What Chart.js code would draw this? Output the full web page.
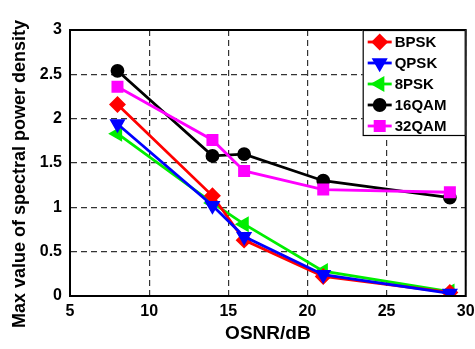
<!DOCTYPE html>
<html>
<head>
<meta charset="utf-8">
<script src="https://cdn.jsdelivr.net/npm/chart.js@4/dist/chart.umd.min.js"></script>
<style>
    html, body { margin: 0; padding: 0; background: #fff; }
    #wrap { width: 475px; height: 349px; }
</style>
</head>
<body>
<div id="wrap"><canvas id="chart" width="475" height="349"></canvas></div>
<script>
const osnr = [8, 14, 16, 21, 29];
const bpsk = [2.16, 1.13, 0.63, 0.22, 0.04];
const qpsk = [1.94, 1.02, 0.67, 0.24, 0.03];
const psk8 = [1.83, 1.05, 0.81, 0.28, 0.05];
const qam16 = [2.54, 1.58, 1.60, 1.30, 1.11];
const qam32 = [2.36, 1.76, 1.41, 1.20, 1.17];
const xTicks = [5, 10, 15, 20, 25, 30];
const yTicks = [0, 0.5, 1, 1.5, 2, 2.5, 3];
const yTitle = "Max value of spectral power density";

const FONT = "'Liberation Sans', Arial, sans-serif";

function series(label, values, color, style, rotation, radius) {
    return {
        label,
        data: osnr.map((x, i) => ({ x, y: values[i] })),
        borderColor: color,
        backgroundColor: color,
        pointBackgroundColor: color,
        pointBorderColor: color,
        pointStyle: style,
        rotation: rotation,
        pointRadius: radius,
        borderWidth: 2.8,
        tension: 0
    };
}

const datasets = [
    series("QPSK", qpsk, "#0000ff", "triangle", 180, 6.5),
    series("BPSK", bpsk, "#ff0000", "rectRot", 0, 6.5),
    series("8PSK", psk8, "#00ee00", "triangle", -90, 6.5),
    series("32QAM", qam32, "#ff00ff", "rect", 0, 6.5),
    series("16QAM", qam16, "#000000", "circle", 0, 5.5)
];
const legendOrder = ["BPSK", "QPSK", "8PSK", "16QAM", "32QAM"];

const boxLegend = {
    id: "boxLegend",
    afterDatasetsDraw(chart) {
        const ctx = chart.ctx;
        const area = chart.chartArea;
        const w = 103, h = 106;
        const x0 = area.right - w, y0 = area.top;
        ctx.save();
        ctx.fillStyle = "#fff";
        ctx.fillRect(x0, y0, w, h);
        ctx.strokeStyle = "#000";
        ctx.lineWidth = 1.2;
        ctx.strokeRect(x0 + 0.5, y0 + 0.5, w - 1, h - 1);
        ctx.font = `bold 15px ${FONT}`;
        ctx.textBaseline = "middle";
        legendOrder.forEach((name, i) => {
            const ds = chart.data.datasets.find(d => d.label === name);
            const y = y0 + 12 + i * 21;
            ctx.strokeStyle = ds.borderColor;
            ctx.lineWidth = 2.8;
            ctx.beginPath();
            ctx.moveTo(x0 + 5, y);
            ctx.lineTo(x0 + 29, y);
            ctx.stroke();
            ctx.fillStyle = ds.borderColor;
            Chart.helpers.drawPoint(ctx, {
                pointStyle: ds.pointStyle,
                rotation: ds.rotation,
                radius: ds.pointRadius,
                borderWidth: 1
            }, x0 + 17, y);
            ctx.fill();
            ctx.fillStyle = "#000";
            ctx.fillText(name, x0 + 32, y + 1);
        });
        ctx.restore();
    }
};

// y title drawn by hand so it can sit a bit below the axis centre, as in the source figure
const sideTitle = {
    id: "sideTitle",
    afterDraw(chart) {
        const ctx = chart.ctx;
        ctx.save();
        ctx.translate(20, 174);
        ctx.rotate(-Math.PI / 2);
        ctx.font = `bold 18px ${FONT}`;
        ctx.fillStyle = "#000";
        ctx.textAlign = "center";
        ctx.textBaseline = "middle";
        ctx.fillText(yTitle, 0, 0);
        ctx.restore();
    }
};

new Chart(document.getElementById("chart"), {
    type: "line",
    data: { datasets },
    options: {
        responsive: false,
        animation: false,
        layout: { padding: { top: 30, right: 8, left: 0, bottom: 0 } },
        plugins: { legend: { display: false }, tooltip: { enabled: false } },
        scales: {
            x: {
                type: "linear",
                min: 5,
                max: 30,
                afterBuildTicks(axis) { axis.ticks = xTicks.map(v => ({ value: v })); },
                afterFit(axis) {
                    axis.height = 53;
                    axis.paddingLeft = 0;
                    axis.paddingRight = 0;
                },
                grid: { color: "#333", lineWidth: 1.2, drawTicks: false },
                border: { display: true, color: "#000", width: 2, dash: [6, 4] },
                ticks: {
                    color: "#000",
                    padding: 6,
                    font: { family: FONT, size: 16, weight: "bold" },
                    callback: v => String(v)
                },
                title: {
                    display: true,
                    text: "OSNR/dB",
                    color: "#000",
                    padding: { top: 1 },
                    font: { family: FONT, size: 19, weight: "bold" }
                }
            },
            y: {
                type: "linear",
                min: 0,
                max: 3,
                afterBuildTicks(axis) { axis.ticks = yTicks.map(v => ({ value: v })); },
                afterFit(axis) {
                    axis.width = 70;
                    axis.paddingTop = 0;
                    axis.paddingBottom = 0;
                },
                grid: { color: "#333", lineWidth: 1.2, drawTicks: false },
                border: { display: true, color: "#000", width: 2, dash: [6, 4] },
                ticks: {
                    color: "#000",
                    padding: 8,
                    font: { family: FONT, size: 16, weight: "bold" },
                    callback: v => String(v)
                },
                title: { display: false }
            }
        }
    },
    plugins: [{
        id: "frame",
        afterDatasetsDraw(chart) {
            const a = chart.chartArea;
            const ctx = chart.ctx;
            ctx.save();
            ctx.strokeStyle = "#000";
            ctx.lineWidth = 2;
            ctx.strokeRect(a.left, a.top, a.right - a.left, a.bottom - a.top);
            ctx.restore();
        }
    }, boxLegend, sideTitle]
});
</script>
</body>
</html>
